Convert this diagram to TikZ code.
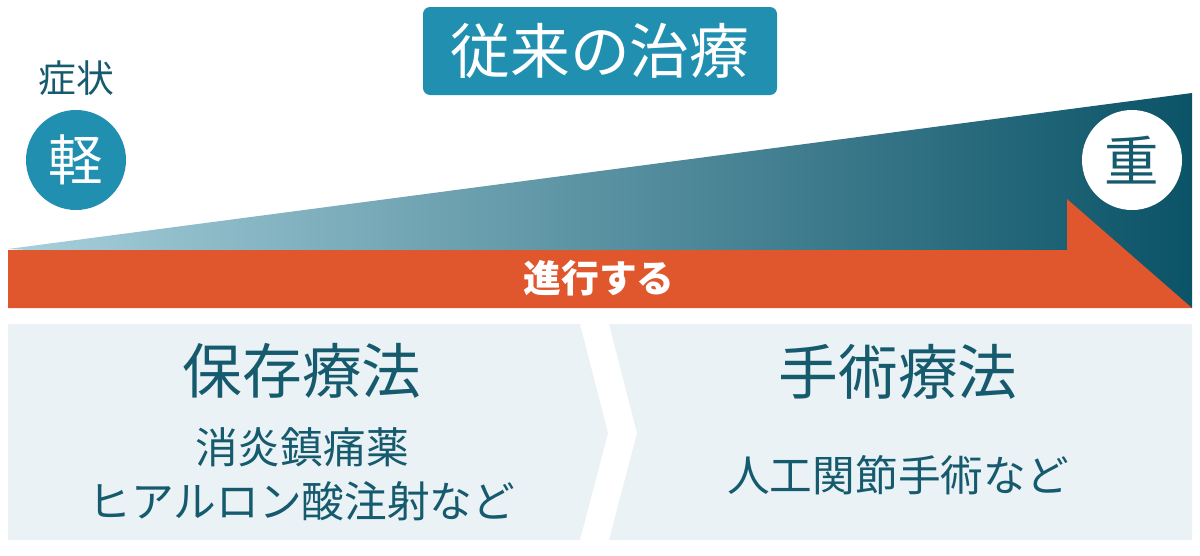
\documentclass[tikz,border=0pt]{standalone}
\usepackage{fontspec}
\setmainfont{Noto Sans CJK JP}
\usetikzlibrary{positioning}
\definecolor{stageblue}{HTML}{2190B0}
\definecolor{stageink}{HTML}{165A6E}
\definecolor{stagepale}{HTML}{EAF2F5}
\definecolor{stageorange}{HTML}{E0572E}
\definecolor{wedgelight}{HTML}{A8D0DC}
\definecolor{wedgedark}{HTML}{0B5367}
\tikzset{
  heading/.style={text=stageink,font=\fontsize{34}{34}\selectfont},
  detail/.style={text=stageink,font=\fontsize{24.3}{31}\selectfont,align=center},
  grade/.style={circle,minimum size=100*0.02cm,inner sep=0pt,font=\fontsize{31}{31}\selectfont}
}
\begin{document}
\begin{tikzpicture}[x=0.02cm,y=-0.02cm]
	\useasboundingbox(0,0)rectangle(1200,555);
	\shade[left color=wedgelight,right color=wedgedark](8,249)--(1192,93)--(1192,308)--cycle;
	\fill[stageorange](8,250)--(1067,250)--(1067,199)--(1192,308)--(8,308)--cycle;
	\node[text=white,font=\bfseries\fontsize{21.5}{21.5}\selectfont](progress)at(599,278){進行する};
	\fill[stageblue,rounded corners=4pt](423,7)rectangle(777,95);
	\node[text=white,font=\fontsize{34}{34}\selectfont](title)at(600,51){従来の治療};
	\node[text=stageink,font=\fontsize{21.5}{21.5}\selectfont](symptom)at(76,78){症状};
	\node[grade,fill=stageblue,text=white](mild)at(76,160){軽};
	\node[grade,fill=white,text=stageink](severe)at(1132,160){重};
	\fill[stagepale](8,324)--(580,324)--(608,433)--(580,540)--(8,540)--cycle;
	\fill[stagepale](609,324)--(1192,324)--(1192,540)--(609,540)--(637,433)--cycle;
	\node[heading](conservative)at(302,371){保存療法};
	\node[detail](drugs)at(302,474){消炎鎮痛薬\\ヒアルロン酸注射など};
	\node[heading](surgical)at(898,372){手術療法};
	\node[detail](joint)at(898,475){人工関節手術など};
\end{tikzpicture}
\end{document}
